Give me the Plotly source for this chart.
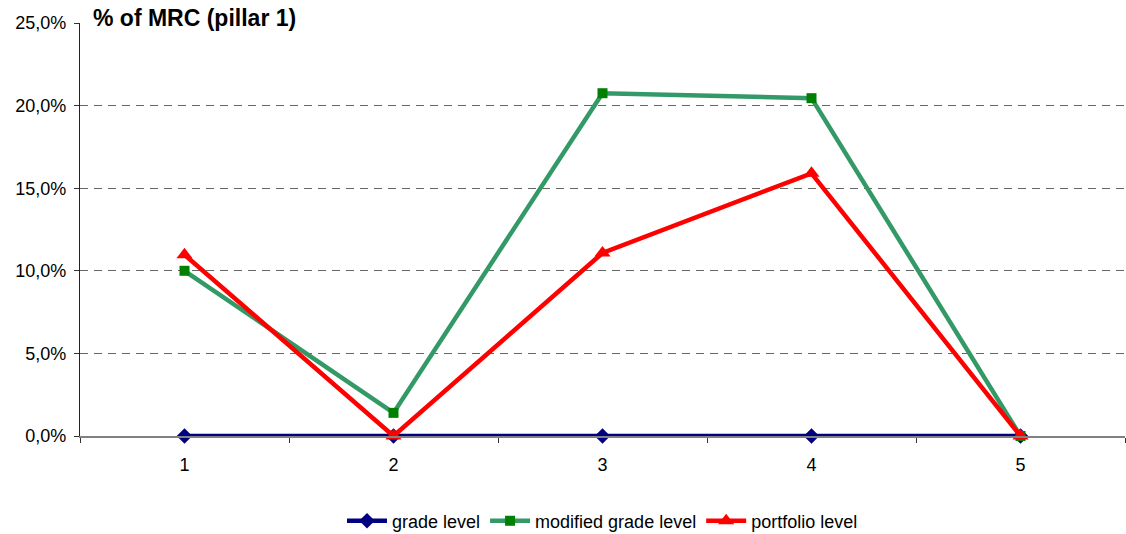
import plotly.graph_objects as go

# Rating grade buckets and the share of MRC (pillar 1) for each calculation level
grades = ["1", "2", "3", "4", "5"]
grade_level = [0.0, 0.0, 0.0, 0.0, 0.0]
modified_grade_level = [0.100, 0.014, 0.2075, 0.2045, 0.0]
portfolio_level = [0.1097, 0.0, 0.1108, 0.159, 0.0]

y_ticks = [0.0, 0.05, 0.10, 0.15, 0.20, 0.25]

series = [
    ("grade level", grade_level, "#000080", "#000080", "diamond", 12),
    ("modified grade level", modified_grade_level, "#339966", "#008000", "square", 10),
    ("portfolio level", portfolio_level, "#FF0000", "#FF0000", "triangle-up", 14),
]

fig = go.Figure()
for name, values, line_col, marker_col, symbol, size in series:
    fig.add_trace(go.Scatter(
        x=grades, y=values, name=name, mode="lines+markers",
        line=dict(color=line_col, width=4.5),
        marker=dict(symbol=symbol, size=size, color=marker_col,
                    line=dict(width=0)),
        cliponaxis=False,
    ))

fig.update_layout(
    width=1126, height=534,
    margin=dict(l=80, r=1, t=23, b=98, autoexpand=False),
    paper_bgcolor="white", plot_bgcolor="white",
    font=dict(family="Liberation Sans, Arial, sans-serif", size=18, color="black"),
    separators=", ",
    showlegend=True,
    legend=dict(orientation="h", x=0.5, xanchor="center", y=-0.206, yanchor="middle",
                font=dict(size=18), itemwidth=40, tracegroupgap=0),
    annotations=[dict(
        text="<b>% of MRC (pillar 1)</b>", xref="paper", yref="paper",
        x=(91 - 80) / 1045, y=1.012, xanchor="left", yanchor="middle",
        showarrow=False, font=dict(size=23, color="black"),
    )],
)

fig.update_xaxes(
    type="category", range=[-0.5, 4.5],
    tickson="boundaries", ticks="outside", ticklen=5, tickcolor="#333333",
    showline=True, linecolor="#808080", linewidth=1.5,
    showgrid=False, zeroline=False,
    tickfont=dict(size=18), ticklabelstandoff=12,
)

fig.update_yaxes(
    range=[0, 0.25], tickvals=y_ticks, tickformat=".1%",
    ticks="outside", ticklen=5, tickcolor="#333333",
    showline=True, linecolor="#222222", linewidth=1.2,
    showgrid=True, gridcolor="#666666", griddash="8px,6px", gridwidth=1,
    zeroline=False, tickfont=dict(size=18), ticklabelstandoff=4,
)

fig.write_html("out.html")
